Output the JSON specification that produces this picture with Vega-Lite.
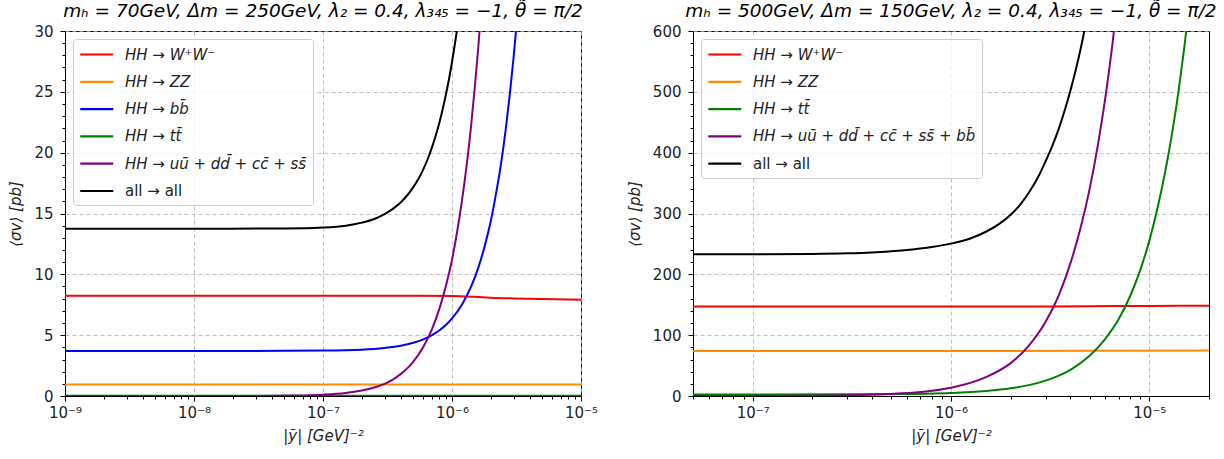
{
  "$schema": "https://vega.github.io/schema/vega-lite/v6.json",
  "background": "white",
  "padding": {"left": 8, "top": 1, "right": 5, "bottom": 5},
  "spacing": 27,
  "datasets": {
    "left": [
      {"s": "HH → W⁺W⁻", "x": 1e-9, "y": 8.25},
      {"s": "HH → W⁺W⁻", "x": 1e-8, "y": 8.25},
      {"s": "HH → W⁺W⁻", "x": 1e-7, "y": 8.25},
      {"s": "HH → W⁺W⁻", "x": 5e-7, "y": 8.24},
      {"s": "HH → W⁺W⁻", "x": 1e-6, "y": 8.22},
      {"s": "HH → W⁺W⁻", "x": 1.5e-6, "y": 8.15},
      {"s": "HH → W⁺W⁻", "x": 2e-6, "y": 8.08},
      {"s": "HH → W⁺W⁻", "x": 3e-6, "y": 8.02},
      {"s": "HH → W⁺W⁻", "x": 5e-6, "y": 7.97},
      {"s": "HH → W⁺W⁻", "x": 1e-5, "y": 7.92},
      {"s": "HH → ZZ", "x": 1e-9, "y": 0.95},
      {"s": "HH → ZZ", "x": 1e-7, "y": 0.95},
      {"s": "HH → ZZ", "x": 1e-5, "y": 0.95},
      {"s": "HH → bb̄", "x": 1e-9, "y": 3.7},
      {"s": "HH → bb̄", "x": 1e-8, "y": 3.7},
      {"s": "HH → bb̄", "x": 5e-8, "y": 3.71},
      {"s": "HH → bb̄", "x": 1e-7, "y": 3.73},
      {"s": "HH → bb̄", "x": 2e-7, "y": 3.81},
      {"s": "HH → bb̄", "x": 3e-7, "y": 3.95},
      {"s": "HH → bb̄", "x": 4e-7, "y": 4.13},
      {"s": "HH → bb̄", "x": 5e-7, "y": 4.37},
      {"s": "HH → bb̄", "x": 6e-7, "y": 4.66},
      {"s": "HH → bb̄", "x": 7e-7, "y": 5.0},
      {"s": "HH → bb̄", "x": 8e-7, "y": 5.4},
      {"s": "HH → bb̄", "x": 9e-7, "y": 5.85},
      {"s": "HH → bb̄", "x": 1e-6, "y": 6.38},
      {"s": "HH → bb̄", "x": 1.2e-6, "y": 7.55},
      {"s": "HH → bb̄", "x": 1.4e-6, "y": 8.95},
      {"s": "HH → bb̄", "x": 1.6e-6, "y": 10.55},
      {"s": "HH → bb̄", "x": 1.8e-6, "y": 12.4},
      {"s": "HH → bb̄", "x": 2e-6, "y": 14.4},
      {"s": "HH → bb̄", "x": 2.2e-6, "y": 16.7},
      {"s": "HH → bb̄", "x": 2.4e-6, "y": 19.1},
      {"s": "HH → bb̄", "x": 2.6e-6, "y": 21.8},
      {"s": "HH → bb̄", "x": 2.8e-6, "y": 24.7},
      {"s": "HH → bb̄", "x": 3e-6, "y": 27.8},
      {"s": "HH → bb̄", "x": 3.2e-6, "y": 31.1},
      {"s": "HH → bb̄", "x": 3.4e-6, "y": 34.7},
      {"s": "HH → tt̄", "x": 1e-9, "y": 0.02},
      {"s": "HH → tt̄", "x": 1e-7, "y": 0.02},
      {"s": "HH → tt̄", "x": 1e-5, "y": 0.03},
      {"s": "HH → uū + dd̄ + cc̄ + ss̄", "x": 1e-9, "y": 0.0},
      {"s": "HH → uū + dd̄ + cc̄ + ss̄", "x": 1e-8, "y": 0.002},
      {"s": "HH → uū + dd̄ + cc̄ + ss̄", "x": 3e-8, "y": 0.01},
      {"s": "HH → uū + dd̄ + cc̄ + ss̄", "x": 6e-8, "y": 0.04},
      {"s": "HH → uū + dd̄ + cc̄ + ss̄", "x": 1e-7, "y": 0.11},
      {"s": "HH → uū + dd̄ + cc̄ + ss̄", "x": 1.5e-7, "y": 0.25},
      {"s": "HH → uū + dd̄ + cc̄ + ss̄", "x": 2e-7, "y": 0.45},
      {"s": "HH → uū + dd̄ + cc̄ + ss̄", "x": 2.5e-7, "y": 0.7},
      {"s": "HH → uū + dd̄ + cc̄ + ss̄", "x": 3e-7, "y": 1.0},
      {"s": "HH → uū + dd̄ + cc̄ + ss̄", "x": 3.5e-7, "y": 1.37},
      {"s": "HH → uū + dd̄ + cc̄ + ss̄", "x": 4e-7, "y": 1.8},
      {"s": "HH → uū + dd̄ + cc̄ + ss̄", "x": 4.5e-7, "y": 2.27},
      {"s": "HH → uū + dd̄ + cc̄ + ss̄", "x": 5e-7, "y": 2.8},
      {"s": "HH → uū + dd̄ + cc̄ + ss̄", "x": 6e-7, "y": 4.05},
      {"s": "HH → uū + dd̄ + cc̄ + ss̄", "x": 7e-7, "y": 5.5},
      {"s": "HH → uū + dd̄ + cc̄ + ss̄", "x": 8e-7, "y": 7.2},
      {"s": "HH → uū + dd̄ + cc̄ + ss̄", "x": 9e-7, "y": 9.1},
      {"s": "HH → uū + dd̄ + cc̄ + ss̄", "x": 1e-6, "y": 11.2},
      {"s": "HH → uū + dd̄ + cc̄ + ss̄", "x": 1.1e-6, "y": 13.6},
      {"s": "HH → uū + dd̄ + cc̄ + ss̄", "x": 1.2e-6, "y": 16.2},
      {"s": "HH → uū + dd̄ + cc̄ + ss̄", "x": 1.3e-6, "y": 19.0},
      {"s": "HH → uū + dd̄ + cc̄ + ss̄", "x": 1.4e-6, "y": 22.0},
      {"s": "HH → uū + dd̄ + cc̄ + ss̄", "x": 1.5e-6, "y": 25.3},
      {"s": "HH → uū + dd̄ + cc̄ + ss̄", "x": 1.6e-6, "y": 28.7},
      {"s": "HH → uū + dd̄ + cc̄ + ss̄", "x": 1.7e-6, "y": 32.4},
      {"s": "HH → uū + dd̄ + cc̄ + ss̄", "x": 1.8e-6, "y": 36.0},
      {"s": "all → all", "x": 1e-9, "y": 13.75},
      {"s": "all → all", "x": 1e-8, "y": 13.75},
      {"s": "all → all", "x": 5e-8, "y": 13.77},
      {"s": "all → all", "x": 1e-7, "y": 13.85},
      {"s": "all → all", "x": 1.5e-7, "y": 14.0},
      {"s": "all → all", "x": 2e-7, "y": 14.25},
      {"s": "all → all", "x": 2.5e-7, "y": 14.55},
      {"s": "all → all", "x": 3e-7, "y": 14.95},
      {"s": "all → all", "x": 3.5e-7, "y": 15.4},
      {"s": "all → all", "x": 4e-7, "y": 15.9},
      {"s": "all → all", "x": 4.5e-7, "y": 16.5},
      {"s": "all → all", "x": 5e-7, "y": 17.15},
      {"s": "all → all", "x": 5.5e-7, "y": 17.85},
      {"s": "all → all", "x": 6e-7, "y": 18.65},
      {"s": "all → all", "x": 6.5e-7, "y": 19.5},
      {"s": "all → all", "x": 7e-7, "y": 20.45},
      {"s": "all → all", "x": 7.5e-7, "y": 21.45},
      {"s": "all → all", "x": 8e-7, "y": 22.5},
      {"s": "all → all", "x": 8.5e-7, "y": 23.65},
      {"s": "all → all", "x": 9e-7, "y": 24.85},
      {"s": "all → all", "x": 9.5e-7, "y": 26.1},
      {"s": "all → all", "x": 1e-6, "y": 27.45},
      {"s": "all → all", "x": 1.05e-6, "y": 28.85},
      {"s": "all → all", "x": 1.1e-6, "y": 30.3},
      {"s": "all → all", "x": 1.15e-6, "y": 31.9},
      {"s": "all → all", "x": 1.2e-6, "y": 33.5}
    ],
    "right": [
      {"s": "HH → W⁺W⁻", "x": 5e-8, "y": 147},
      {"s": "HH → W⁺W⁻", "x": 1e-6, "y": 147},
      {"s": "HH → W⁺W⁻", "x": 3e-6, "y": 147},
      {"s": "HH → W⁺W⁻", "x": 5e-6, "y": 147.5},
      {"s": "HH → W⁺W⁻", "x": 1e-5, "y": 148},
      {"s": "HH → W⁺W⁻", "x": 2e-5, "y": 148.5},
      {"s": "HH → ZZ", "x": 5e-8, "y": 74},
      {"s": "HH → ZZ", "x": 1e-6, "y": 74},
      {"s": "HH → ZZ", "x": 5e-6, "y": 74.3},
      {"s": "HH → ZZ", "x": 2e-5, "y": 75},
      {"s": "HH → tt̄", "x": 5e-8, "y": 2.5},
      {"s": "HH → tt̄", "x": 1e-7, "y": 2.5},
      {"s": "HH → tt̄", "x": 3e-7, "y": 2.7},
      {"s": "HH → tt̄", "x": 5e-7, "y": 3.1},
      {"s": "HH → tt̄", "x": 1e-6, "y": 5.0},
      {"s": "HH → tt̄", "x": 1.5e-6, "y": 8.2},
      {"s": "HH → tt̄", "x": 2e-6, "y": 12.6},
      {"s": "HH → tt̄", "x": 2.5e-6, "y": 18.3},
      {"s": "HH → tt̄", "x": 3e-6, "y": 25.3},
      {"s": "HH → tt̄", "x": 3.5e-6, "y": 33.5},
      {"s": "HH → tt̄", "x": 4e-6, "y": 43},
      {"s": "HH → tt̄", "x": 5e-6, "y": 66},
      {"s": "HH → tt̄", "x": 6e-6, "y": 94},
      {"s": "HH → tt̄", "x": 7e-6, "y": 126},
      {"s": "HH → tt̄", "x": 8e-6, "y": 164},
      {"s": "HH → tt̄", "x": 9e-6, "y": 207},
      {"s": "HH → tt̄", "x": 1e-5, "y": 255},
      {"s": "HH → tt̄", "x": 1.1e-5, "y": 309},
      {"s": "HH → tt̄", "x": 1.2e-5, "y": 367},
      {"s": "HH → tt̄", "x": 1.3e-5, "y": 430},
      {"s": "HH → tt̄", "x": 1.4e-5, "y": 498},
      {"s": "HH → tt̄", "x": 1.5e-5, "y": 572},
      {"s": "HH → tt̄", "x": 1.6e-5, "y": 650},
      {"s": "HH → uū + dd̄ + cc̄ + ss̄ + bb̄", "x": 5e-8, "y": 0.05},
      {"s": "HH → uū + dd̄ + cc̄ + ss̄ + bb̄", "x": 1e-7, "y": 0.15},
      {"s": "HH → uū + dd̄ + cc̄ + ss̄ + bb̄", "x": 2e-7, "y": 0.55},
      {"s": "HH → uū + dd̄ + cc̄ + ss̄ + bb̄", "x": 3e-7, "y": 1.2},
      {"s": "HH → uū + dd̄ + cc̄ + ss̄ + bb̄", "x": 5e-7, "y": 3.4},
      {"s": "HH → uū + dd̄ + cc̄ + ss̄ + bb̄", "x": 7e-7, "y": 6.6},
      {"s": "HH → uū + dd̄ + cc̄ + ss̄ + bb̄", "x": 1e-6, "y": 13.6},
      {"s": "HH → uū + dd̄ + cc̄ + ss̄ + bb̄", "x": 1.5e-6, "y": 31},
      {"s": "HH → uū + dd̄ + cc̄ + ss̄ + bb̄", "x": 2e-6, "y": 54},
      {"s": "HH → uū + dd̄ + cc̄ + ss̄ + bb̄", "x": 2.5e-6, "y": 85},
      {"s": "HH → uū + dd̄ + cc̄ + ss̄ + bb̄", "x": 3e-6, "y": 122},
      {"s": "HH → uū + dd̄ + cc̄ + ss̄ + bb̄", "x": 3.5e-6, "y": 166},
      {"s": "HH → uū + dd̄ + cc̄ + ss̄ + bb̄", "x": 4e-6, "y": 218},
      {"s": "HH → uū + dd̄ + cc̄ + ss̄ + bb̄", "x": 4.5e-6, "y": 276},
      {"s": "HH → uū + dd̄ + cc̄ + ss̄ + bb̄", "x": 5e-6, "y": 340},
      {"s": "HH → uū + dd̄ + cc̄ + ss̄ + bb̄", "x": 5.5e-6, "y": 412},
      {"s": "HH → uū + dd̄ + cc̄ + ss̄ + bb̄", "x": 6e-6, "y": 490},
      {"s": "HH → uū + dd̄ + cc̄ + ss̄ + bb̄", "x": 6.5e-6, "y": 575},
      {"s": "HH → uū + dd̄ + cc̄ + ss̄ + bb̄", "x": 7e-6, "y": 667},
      {"s": "all → all", "x": 5e-8, "y": 233},
      {"s": "all → all", "x": 1e-7, "y": 233},
      {"s": "all → all", "x": 2e-7, "y": 233.5},
      {"s": "all → all", "x": 3e-7, "y": 234.5},
      {"s": "all → all", "x": 4e-7, "y": 236},
      {"s": "all → all", "x": 5e-7, "y": 238},
      {"s": "all → all", "x": 6e-7, "y": 240},
      {"s": "all → all", "x": 7e-7, "y": 242.5},
      {"s": "all → all", "x": 8e-7, "y": 245},
      {"s": "all → all", "x": 1e-6, "y": 250.5},
      {"s": "all → all", "x": 1.25e-6, "y": 259},
      {"s": "all → all", "x": 1.5e-6, "y": 270},
      {"s": "all → all", "x": 1.75e-6, "y": 283},
      {"s": "all → all", "x": 2e-6, "y": 298},
      {"s": "all → all", "x": 2.25e-6, "y": 316},
      {"s": "all → all", "x": 2.5e-6, "y": 337},
      {"s": "all → all", "x": 2.75e-6, "y": 360},
      {"s": "all → all", "x": 3e-6, "y": 386},
      {"s": "all → all", "x": 3.25e-6, "y": 412},
      {"s": "all → all", "x": 3.5e-6, "y": 440},
      {"s": "all → all", "x": 3.75e-6, "y": 470},
      {"s": "all → all", "x": 4e-6, "y": 502},
      {"s": "all → all", "x": 4.25e-6, "y": 535},
      {"s": "all → all", "x": 4.5e-6, "y": 570},
      {"s": "all → all", "x": 4.75e-6, "y": 607},
      {"s": "all → all", "x": 5e-6, "y": 646}
    ]
  },
  "hconcat": [
    {
      "width": 516,
      "height": 365,
      "title": {"text": "mₕ = 70GeV, Δm = 250GeV, λ₂ = 0.4, λ₃₄₅ = −1, θ̃ = π/2"},
      "layer": [
        {
          "data": {"name": "left"},
          "mark": {"type": "line", "strokeWidth": 2, "clip": true, "interpolate": "monotone"},
          "encoding": {
            "x": {"field": "x", "type": "quantitative",
              "scale": {"type": "log", "domain": [1e-9, 1e-5], "nice": false},
              "axis": {"orient": "bottom", "title": "|ỹ| [GeV]⁻²", "titlePadding": 8, "values": [1e-9, 1e-8, 1e-7, 1e-6, 1e-5], "grid": true,
                "labelExpr": "'10⁻' + ['⁰','¹','²','³','⁴','⁵','⁶','⁷','⁸','⁹'][-round(log(datum.value)/LN10)]"}},
            "y": {"field": "y", "type": "quantitative",
              "scale": {"domain": [0, 30], "nice": false, "zero": false},
              "axis": {"orient": "left", "title": "⟨σv⟩ [pb]", "titlePadding": 10, "labelPadding": 7, "values": [0, 5, 10, 15, 20, 25, 30], "grid": true}},
            "color": {"field": "s", "type": "nominal",
              "scale": {"domain": ["HH → W⁺W⁻", "HH → ZZ", "HH → bb̄", "HH → tt̄", "HH → uū + dd̄ + cc̄ + ss̄", "all → all"],
                "range": ["#ff0000", "#ff8c00", "#0000ff", "#008000", "#800080", "#000000"]},
              "legend": {"title": null, "orient": "top-left", "offset": 8, "padding": 6,
                "strokeColor": "#cccccc", "fillColor": "rgba(255,255,255,0.8)", "cornerRadius": 3,
                "symbolType": "M-1,0H3", "symbolSize": 272, "symbolStrokeWidth": 2.2,
                "labelFontSize": 15, "labelFont": "DejaVu Sans", "labelColor": "#222", "labelOffset": 27, "labelLimit": 0,
                "rowPadding": 9.3,
                "encode": {"labels": {"update": {"fontStyle": {"signal": "datum.label === 'all → all' ? 'normal' : 'italic'"}}}}}}
          }
        },
        {
          "data": {"name": "left"},
          "mark": {"type": "point", "opacity": 0, "clip": true},
          "encoding": {
            "x": {"field": "x", "type": "quantitative",
              "scale": {"type": "log", "domain": [1e-9, 1e-5], "nice": false},
              "axis": {"orient": "bottom", "title": null, "labels": false, "grid": false, "domain": false, "tickSize": 3,
                "values": [2e-9, 3e-9, 4e-9, 5e-9, 6e-9, 7e-9, 8e-9, 9e-9, 2e-8, 3e-8, 4e-8, 5e-8, 6e-8, 7e-8, 8e-8, 9e-8, 2e-7, 3e-7, 4e-7, 5e-7, 6e-7, 7e-7, 8e-7, 9e-7, 2e-6, 3e-6, 4e-6, 5e-6, 6e-6, 7e-6, 8e-6, 9e-6]}},
            "y": {"field": "y", "type": "quantitative",
              "scale": {"domain": [0, 30], "nice": false, "zero": false},
              "axis": {"orient": "left", "title": null, "labels": false, "grid": false, "domain": false, "tickSize": 3,
                "values": [1, 2, 3, 4, 6, 7, 8, 9, 11, 12, 13, 14, 16, 17, 18, 19, 21, 22, 23, 24, 26, 27, 28, 29]}}
          }
        }
      ],
      "resolve": {"axis": {"x": "independent", "y": "independent"}}
    },
    {
      "width": 516,
      "height": 365,
      "title": {"text": "mₕ = 500GeV, Δm = 150GeV, λ₂ = 0.4, λ₃₄₅ = −1, θ̃ = π/2"},
      "layer": [
        {
          "data": {"name": "right"},
          "mark": {"type": "line", "strokeWidth": 2, "clip": true, "interpolate": "monotone"},
          "encoding": {
            "x": {"field": "x", "type": "quantitative",
              "scale": {"type": "log", "domain": [5e-8, 2e-5], "nice": false},
              "axis": {"orient": "bottom", "title": "|ỹ| [GeV]⁻²", "titlePadding": 8, "values": [1e-7, 1e-6, 1e-5], "grid": true,
                "labelExpr": "'10⁻' + ['⁰','¹','²','³','⁴','⁵','⁶','⁷','⁸','⁹'][-round(log(datum.value)/LN10)]"}},
            "y": {"field": "y", "type": "quantitative",
              "scale": {"domain": [0, 600], "nice": false, "zero": false},
              "axis": {"orient": "left", "title": "⟨σv⟩ [pb]", "titlePadding": 10, "labelPadding": 7, "values": [0, 100, 200, 300, 400, 500, 600], "grid": true}},
            "color": {"field": "s", "type": "nominal",
              "scale": {"domain": ["HH → W⁺W⁻", "HH → ZZ", "HH → tt̄", "HH → uū + dd̄ + cc̄ + ss̄ + bb̄", "all → all"],
                "range": ["#ff0000", "#ff8c00", "#008000", "#800080", "#000000"]},
              "legend": {"title": null, "orient": "top-left", "offset": 8, "padding": 6,
                "strokeColor": "#cccccc", "fillColor": "rgba(255,255,255,0.8)", "cornerRadius": 3,
                "symbolType": "M-1,0H3", "symbolSize": 272, "symbolStrokeWidth": 2.2,
                "labelFontSize": 15, "labelFont": "DejaVu Sans", "labelColor": "#222", "labelOffset": 27, "labelLimit": 0,
                "rowPadding": 9.3,
                "encode": {"labels": {"update": {"fontStyle": {"signal": "datum.label === 'all → all' ? 'normal' : 'italic'"}}}}}}
          }
        },
        {
          "data": {"name": "right"},
          "mark": {"type": "point", "opacity": 0, "clip": true},
          "encoding": {
            "x": {"field": "x", "type": "quantitative",
              "scale": {"type": "log", "domain": [5e-8, 2e-5], "nice": false},
              "axis": {"orient": "bottom", "title": null, "labels": false, "grid": false, "domain": false, "tickSize": 3,
                "values": [5e-8, 6e-8, 7e-8, 8e-8, 9e-8, 2e-7, 3e-7, 4e-7, 5e-7, 6e-7, 7e-7, 8e-7, 9e-7, 2e-6, 3e-6, 4e-6, 5e-6, 6e-6, 7e-6, 8e-6, 9e-6, 2e-5]}},
            "y": {"field": "y", "type": "quantitative",
              "scale": {"domain": [0, 600], "nice": false, "zero": false},
              "axis": {"orient": "left", "title": null, "labels": false, "grid": false, "domain": false, "tickSize": 3,
                "values": [20, 40, 60, 80, 120, 140, 160, 180, 220, 240, 260, 280, 320, 340, 360, 380, 420, 440, 460, 480, 520, 540, 560, 580]}}
          }
        }
      ],
      "resolve": {"axis": {"x": "independent", "y": "independent"}}
    }
  ],
  "resolve": {"scale": {"color": "independent"}},
  "config": {
    "view": {"stroke": "#000000", "strokeWidth": 1},
    "font": "DejaVu Sans",
    "axis": {"labelFont": "DejaVu Sans", "labelFontSize": 15, "labelColor": "#222222", "titleFont": "DejaVu Sans", "titleFontSize": 15, "titleFontWeight": "normal", "titleColor": "#222222", "titleFontStyle": "italic", "domainColor": "#000000", "tickColor": "#000000", "tickSize": 5, "labelPadding": 4, "gridColor": "#b0b0b0", "gridDash": [4, 3], "gridOpacity": 1, "gridWidth": 0.8, "labelFlush": false, "labelOverlap": false},
    "title": {"font": "DejaVu Sans", "fontSize": 18.5, "fontWeight": "normal", "fontStyle": "italic", "color": "#000000", "offset": 4, "anchor": "middle"}
  }
}
